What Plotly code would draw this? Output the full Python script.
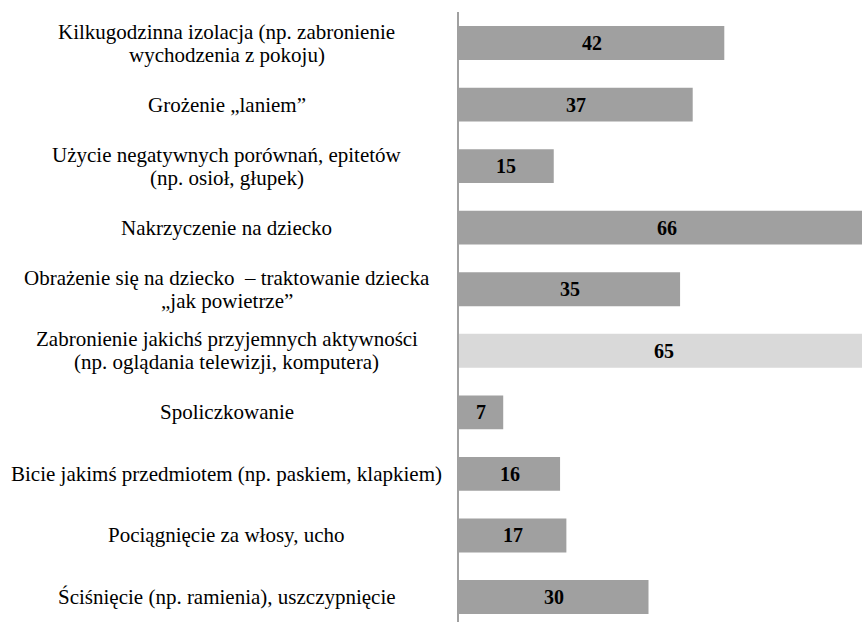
import plotly.graph_objects as go

categories = [
    "Kilkugodzinna izolacja (np. zabronienie<br>wychodzenia z pokoju)",
    "Grożenie „laniem”",
    "Użycie negatywnych porównań, epitetów<br>(np. osioł, głupek)",
    "Nakrzyczenie na dziecko",
    "Obrażenie się na dziecko  – traktowanie dziecka<br>„jak powietrze”",
    "Zabronienie jakichś przyjemnych aktywności<br>(np. oglądania telewizji, komputera)",
    "Spoliczkowanie",
    "Bicie jakimś przedmiotem (np. paskiem, klapkiem)",
    "Pociągnięcie za włosy, ucho",
    "Ściśnięcie (np. ramienia), uszczypnięcie",
]
values = [42, 37, 15, 66, 35, 65, 7, 16, 17, 30]
highlight_index = 5

FONT = "Liberation Serif, Times New Roman, serif"
colors = ["#d9d9d9" if i == highlight_index else "#a0a0a0" for i in range(len(values))]
idx = list(range(len(values)))

fig = go.Figure()
fig.add_trace(go.Bar(
    x=values,
    y=idx,
    orientation="h",
    width=0.55,
    marker=dict(color=colors, line=dict(width=0)),
    hoverinfo="skip",
))

# value labels centred on the full bar length
for i, v in enumerate(values):
    fig.add_annotation(
        x=v / 2, xref="x", y=i, yref="y", text=str(v), showarrow=False,
        xanchor="center", yanchor="middle",
        font=dict(family=FONT, size=20, color="black", weight="bold"),
    )

# category labels, centred, with tight line spacing
line_gap = 23
for i, c in enumerate(categories):
    lines = c.split("<br>")
    n = len(lines)
    for k, ln in enumerate(lines):
        fig.add_annotation(
            x=-0.5767, xref="paper", y=i, yref="y",
            text=ln, showarrow=False, xanchor="center", yanchor="middle",
            yshift=((n - 1) / 2 - k) * line_gap,
            font=dict(family=FONT, size=21, color="black"),
        )

fig.update_layout(
    width=862, height=622,
    margin=dict(l=459, r=0, t=12, b=0),
    paper_bgcolor="white", plot_bgcolor="white",
    showlegend=False,
    xaxis=dict(range=[0, 63.8], visible=False, fixedrange=True),
    yaxis=dict(range=[9.406, -0.5036], showticklabels=False, ticks="",
               showgrid=False, zeroline=False, showline=True,
               linecolor="#a0a0a0", linewidth=2, fixedrange=True),
)

fig.write_html(
    "out.html",
    config={"displayModeBar": False},
    post_script="document.body.style.margin='0';document.documentElement.style.overflow='hidden';",
)
